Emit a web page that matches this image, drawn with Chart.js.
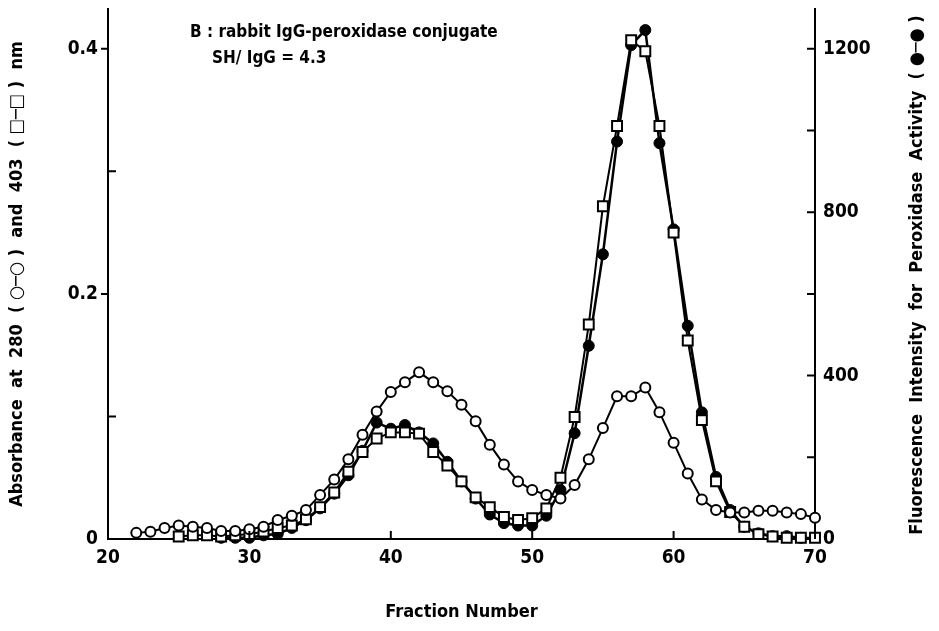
<!DOCTYPE html>
<html>
<head>
<meta charset="utf-8">
<script src="https://cdn.jsdelivr.net/npm/chart.js@4.4.1/dist/chart.umd.min.js"></script>
<style>
html, body { margin: 0; padding: 0; background: #fff; }
canvas { display: block; }
</style>
</head>
<body>
<canvas id="elutionChart" width="939" height="631"></canvas>
<script>
// fraction numbers (x axis)
const fractions = [22, 23, 24, 25, 26, 27, 28, 29, 30, 31, 32, 33, 34, 35, 36, 37, 38, 39, 40, 41,
  42, 43, 44, 45, 46, 47, 48, 49, 50, 51, 52, 53, 54, 55, 56, 57, 58, 59, 60, 61,
  62, 63, 64, 65, 66, 67, 68, 69, 70];

// absorbance at 280 nm (open circles, left axis)
const abs280 = [0.005, 0.006, 0.009, 0.011, 0.010, 0.009, 0.0065, 0.0065, 0.008, 0.010,
  0.0155, 0.019, 0.0236, 0.036, 0.0485, 0.065, 0.085, 0.104, 0.120, 0.128,
  0.136, 0.128, 0.1206, 0.1095, 0.096, 0.077, 0.0607, 0.047, 0.040, 0.036,
  0.033, 0.044, 0.065, 0.0905, 0.1165, 0.1165, 0.1236, 0.1035, 0.0786, 0.0534,
  0.0323, 0.0236, 0.0217, 0.0217, 0.023, 0.023, 0.0217, 0.0203, 0.0173];

// absorbance at 403 nm (open squares, left axis) - starts at fraction 25
const abs403 = [null, null, null, 0.002, 0.003, 0.003, 0.002, 0.003, 0.004, 0.006,
  0.009, 0.011, 0.016, 0.026, 0.038, 0.055, 0.071, 0.082, 0.087, 0.087,
  0.086, 0.071, 0.060, 0.047, 0.034, 0.026, 0.018, 0.0155, 0.017, 0.025,
  0.050, 0.0995, 0.175, 0.2715, 0.337, 0.407, 0.398, 0.337, 0.250, 0.162,
  0.097, 0.047, 0.022, 0.010, 0.004, 0.002, 0.001, 0.001, 0.001];

// fluorescence intensity, peroxidase activity (filled circles, right axis) - fractions 28..69
const peroxidase = [null, null, null, null, null, null, 3, 3, 3, 9,
  12, 27, 46, 75, 111, 156, 216, 285, 270, 279,
  261, 234, 189, 141, 99, 60, 39, 33, 33, 57,
  120, 259, 473, 697, 973, 1209, 1246, 969, 758, 522,
  310, 152, 71, 30, 14, 7, 7, 3, null];

const leftLabels = [0, 0.2, 0.4];
const rightLabels = [0, 400, 800, 1200];

const FONT = '"DejaVu Sans Condensed", "DejaVu Sans", sans-serif';

function pts(values) {
  return values.map((v, i) => ({ x: fractions[i], y: v }));
}

// tick marks drawn on the inside like the original figure
const tickMarks = {
  id: 'tickMarks',
  afterDatasetsDraw(chart) {
    const { ctx, chartArea: a, scales } = chart;
    ctx.save();
    ctx.strokeStyle = '#000';
    ctx.lineWidth = 2;
    ctx.beginPath();
    scales.x.ticks.forEach(t => {
      const px = scales.x.getPixelForValue(t.value);
      ctx.moveTo(px, a.bottom);
      ctx.lineTo(px, a.bottom - 8);
    });
    scales.y.ticks.forEach(t => {
      if (t.value === 0) return;
      const py = scales.y.getPixelForValue(t.value);
      const major = Math.round(t.value * 10) % 2 === 0;
      ctx.moveTo(a.left, py);
      ctx.lineTo(major ? a.left - 7 : a.left + 8, py);
    });
    scales.y1.ticks.forEach(t => {
      if (t.value === 0) return;
      const py = scales.y1.getPixelForValue(t.value);
      ctx.moveTo(a.right, py);
      ctx.lineTo(a.right - 8, py);
    });
    ctx.stroke();
    ctx.restore();
  }
};

// right axis title (reads bottom to top) and the inset note
const extraText = {
  id: 'extraText',
  afterDraw(chart) {
    const { ctx, chartArea: a } = chart;
    ctx.save();
    ctx.fillStyle = '#000';
    ctx.font = 'bold 18px ' + FONT;
    ctx.textBaseline = 'middle';
    ctx.textAlign = 'center';
    ctx.translate(917, 275);
    ctx.rotate(-Math.PI / 2);
    ctx.fillText('Fluorescence  Intensity  for  Peroxidase  Activity  ( \u25CF\u2500\u25CF )', 0, 0);
    ctx.restore();

    ctx.save();
    ctx.fillStyle = '#000';
    ctx.font = 'bold 17px ' + FONT;
    ctx.textBaseline = 'alphabetic';
    ctx.textAlign = 'left';
    ctx.fillText('B : rabbit IgG-peroxidase conjugate', 190, 37);
    ctx.fillText('SH/ IgG = 4.3', 212, 63);
    ctx.restore();
  }
};

new Chart(document.getElementById('elutionChart'), {
  type: 'line',
  data: {
    datasets: [
      {
        label: '280 nm',
        data: pts(abs280),
        yAxisID: 'y',
        borderColor: '#000',
        borderWidth: 2,
        pointStyle: 'circle',
        pointRadius: 5,
        pointBorderWidth: 2,
        pointBackgroundColor: '#fff',
        pointBorderColor: '#000',
        clip: false,
        order: 1
      },
      {
        label: '403 nm',
        data: pts(abs403),
        yAxisID: 'y',
        borderColor: '#000',
        borderWidth: 2,
        pointStyle: 'rect',
        pointRadius: 7,
        pointBorderWidth: 2,
        pointBackgroundColor: '#fff',
        pointBorderColor: '#000',
        clip: false,
        order: 2
      },
      {
        label: 'Peroxidase activity',
        data: pts(peroxidase),
        yAxisID: 'y1',
        borderColor: '#000',
        borderWidth: 2.5,
        pointStyle: 'circle',
        pointRadius: 5.5,
        pointBorderWidth: 1,
        pointBackgroundColor: '#000',
        pointBorderColor: '#000',
        clip: false,
        order: 3
      }
    ]
  },
  options: {
    responsive: false,
    animation: false,
    layout: { padding: { top: 7, left: 0, right: 0, bottom: 0 } },
    plugins: { legend: { display: false }, tooltip: { enabled: false } },
    elements: { line: { tension: 0 } },
    scales: {
      x: {
        type: 'linear',
        min: 20,
        max: 70,
        afterFit: s => { s.height = 92; s.paddingLeft = 0; s.paddingRight = 0; },
        border: { display: true, color: '#000', width: 2 },
        grid: { drawOnChartArea: false, drawTicks: false },
        ticks: { stepSize: 10, padding: 8, color: '#000', font: { family: FONT, size: 19, weight: 'bold' } },
        title: {
          display: true,
          text: 'Fraction Number',
          color: '#000',
          font: { family: FONT, size: 18, weight: 'bold' },
          padding: { top: 0, bottom: 8 }
        }
      },
      y: {
        position: 'left',
        min: 0,
        max: 0.4325,
        afterFit: s => { s.width = 108; s.paddingTop = 0; s.paddingBottom = 0; },
        border: { display: true, color: '#000', width: 2 },
        grid: { drawOnChartArea: false, drawTicks: false },
        ticks: {
          stepSize: 0.1,
          includeBounds: false,
          padding: 10,
          color: '#000',
          font: { family: FONT, size: 19, weight: 'bold' },
          callback: v => {
            const hit = leftLabels.find(l => Math.abs(l - v) < 1e-6);
            return hit === undefined ? '' : (hit === 0 ? '0' : hit.toFixed(1));
          }
        },
        title: {
          display: true,
          text: 'Absorbance  at  280  ( \u25CB\u2500\u25CB )  and  403  ( \u25A1\u2500\u25A1 )  nm',
          color: '#000',
          font: { family: FONT, size: 18, weight: 'bold' },
          padding: { top: 7, bottom: 0 }
        }
      },
      y1: {
        position: 'right',
        min: 0,
        max: 1297.5,
        afterFit: s => { s.width = 124; s.paddingTop = 0; s.paddingBottom = 0; },
        border: { display: true, color: '#000', width: 2 },
        grid: { drawOnChartArea: false, drawTicks: false },
        ticks: {
          stepSize: 200,
          includeBounds: false,
          padding: 8,
          color: '#000',
          font: { family: FONT, size: 19, weight: 'bold' },
          callback: v => (rightLabels.includes(v) ? String(v) : '')
        }
      }
    }
  },
  plugins: [tickMarks, extraText]
});
</script>
</body>
</html>
